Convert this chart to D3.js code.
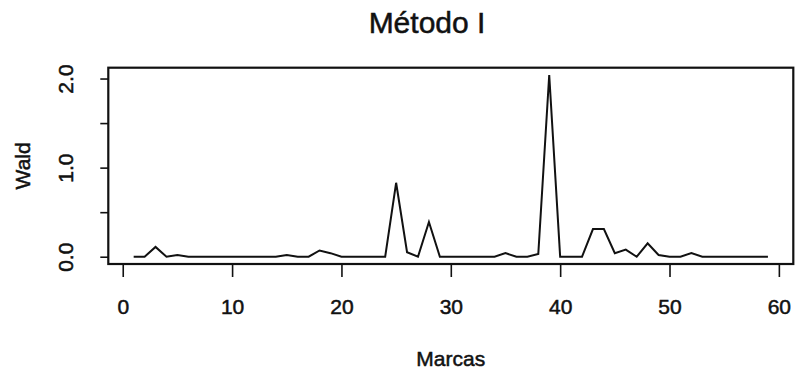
<!DOCTYPE html>
<html>
<head>
<meta charset="utf-8">
<script src="https://cdn.jsdelivr.net/npm/d3@7/dist/d3.min.js"></script>
<style>
  html, body { margin: 0; padding: 0; background: #fff; }
  svg { display: block; }
  text { font-family: "Liberation Sans", Arial, sans-serif; fill: #111; stroke: #111; stroke-width: 0.5px; }
</style>
</head>
<body>
<div id="chart"></div>
<script>
// Marker index and Wald statistic per marker
const marcas = d3.range(1, 60);
const wald = [
  0, 0, 0.11, 0, 0.02, 0, 0, 0, 0, 0,
  0, 0, 0, 0, 0.02, 0, 0, 0.07, 0.04, 0,
  0, 0, 0, 0, 0.83, 0.05, 0, 0.39, 0, 0,
  0, 0, 0, 0, 0.04, 0, 0, 0.03, 2.04, 0,
  0, 0, 0.31, 0.31, 0.04, 0.08, 0, 0.15, 0.02, 0,
  0, 0.04, 0, 0, 0, 0, 0, 0, 0
];
const xTicks = [0, 10, 20, 30, 40, 50, 60];
const yTicks = [0, 0.5, 1.0, 1.5, 2.0];
const yLabelled = [0, 1.0, 2.0];
const title = "Método I";
const xTitle = "Marcas";
const yTitle = "Wald";

const W = 796, H = 376;
const plot = { left: 108.3, right: 793.3, top: 67.7, bottom: 264 };

// R-style 4% padding around the data range
const xr = d3.extent(marcas), yr = [0, d3.max(wald)];
const xPad = (xr[1] - xr[0]) * 0.04, yPad = (yr[1] - yr[0]) * 0.04;
const x = d3.scaleLinear().domain([xr[0] - xPad, xr[1] + xPad]).range([plot.left, plot.right]);
const y = d3.scaleLinear().domain([yr[0] - yPad, yr[1] + yPad]).range([plot.bottom, plot.top]);

const svg = d3.select("#chart").append("svg").attr("width", W).attr("height", H);

// data line
svg.append("path")
  .datum(marcas.map((m, i) => [m, wald[i]]))
  .attr("fill", "none")
  .attr("stroke", "#111")
  .attr("stroke-width", 2)
  .attr("stroke-linejoin", "miter")
  .attr("d", d3.line().x(d => x(d[0])).y(d => y(d[1])));

// x axis
const gx = svg.append("g").attr("transform", `translate(0,${plot.bottom})`)
  .call(d3.axisBottom(x).tickValues(xTicks).tickSize(13).tickSizeOuter(0).tickPadding(22).tickFormat(d3.format("d")));
gx.select(".domain").remove();
gx.selectAll("line").attr("stroke", "#111").attr("stroke-width", 1.6);
gx.selectAll("text").attr("font-size", 21).attr("fill", "#111");

// y axis
const gy = svg.append("g").attr("transform", `translate(${plot.left},0)`)
  .call(d3.axisLeft(y).tickValues(yTicks).tickSize(8).tickSizeOuter(0)
    .tickFormat(d => yLabelled.includes(d) ? d3.format(".1f")(d) : ""));
gy.select(".domain").remove();
gy.selectAll("line").attr("stroke", "#111").attr("stroke-width", 1.6);
gy.selectAll(".tick text")
  .attr("font-size", 21).attr("fill", "#111")
  .attr("text-anchor", "middle")
  .attr("x", 0).attr("dy", null).attr("y", 0)
  .attr("dominant-baseline", "central")
  .attr("transform", "translate(-43,0) rotate(-90)");

// plot frame
svg.append("rect")
  .attr("x", plot.left).attr("y", plot.top)
  .attr("width", plot.right - plot.left).attr("height", plot.bottom - plot.top)
  .attr("fill", "none").attr("stroke", "#111").attr("stroke-width", 2.2);

// titles
svg.append("text").attr("x", 427).attr("y", 33)
  .attr("text-anchor", "middle").attr("font-size", 30).text(title);
svg.append("text").attr("x", (plot.left + plot.right) / 2).attr("y", 366)
  .attr("text-anchor", "middle").attr("font-size", 21).text(xTitle);
svg.append("text")
  .attr("transform", `translate(30,${(plot.top + plot.bottom) / 2}) rotate(-90)`)
  .attr("text-anchor", "middle").attr("font-size", 21).text(yTitle);
</script>
</body>
</html>
